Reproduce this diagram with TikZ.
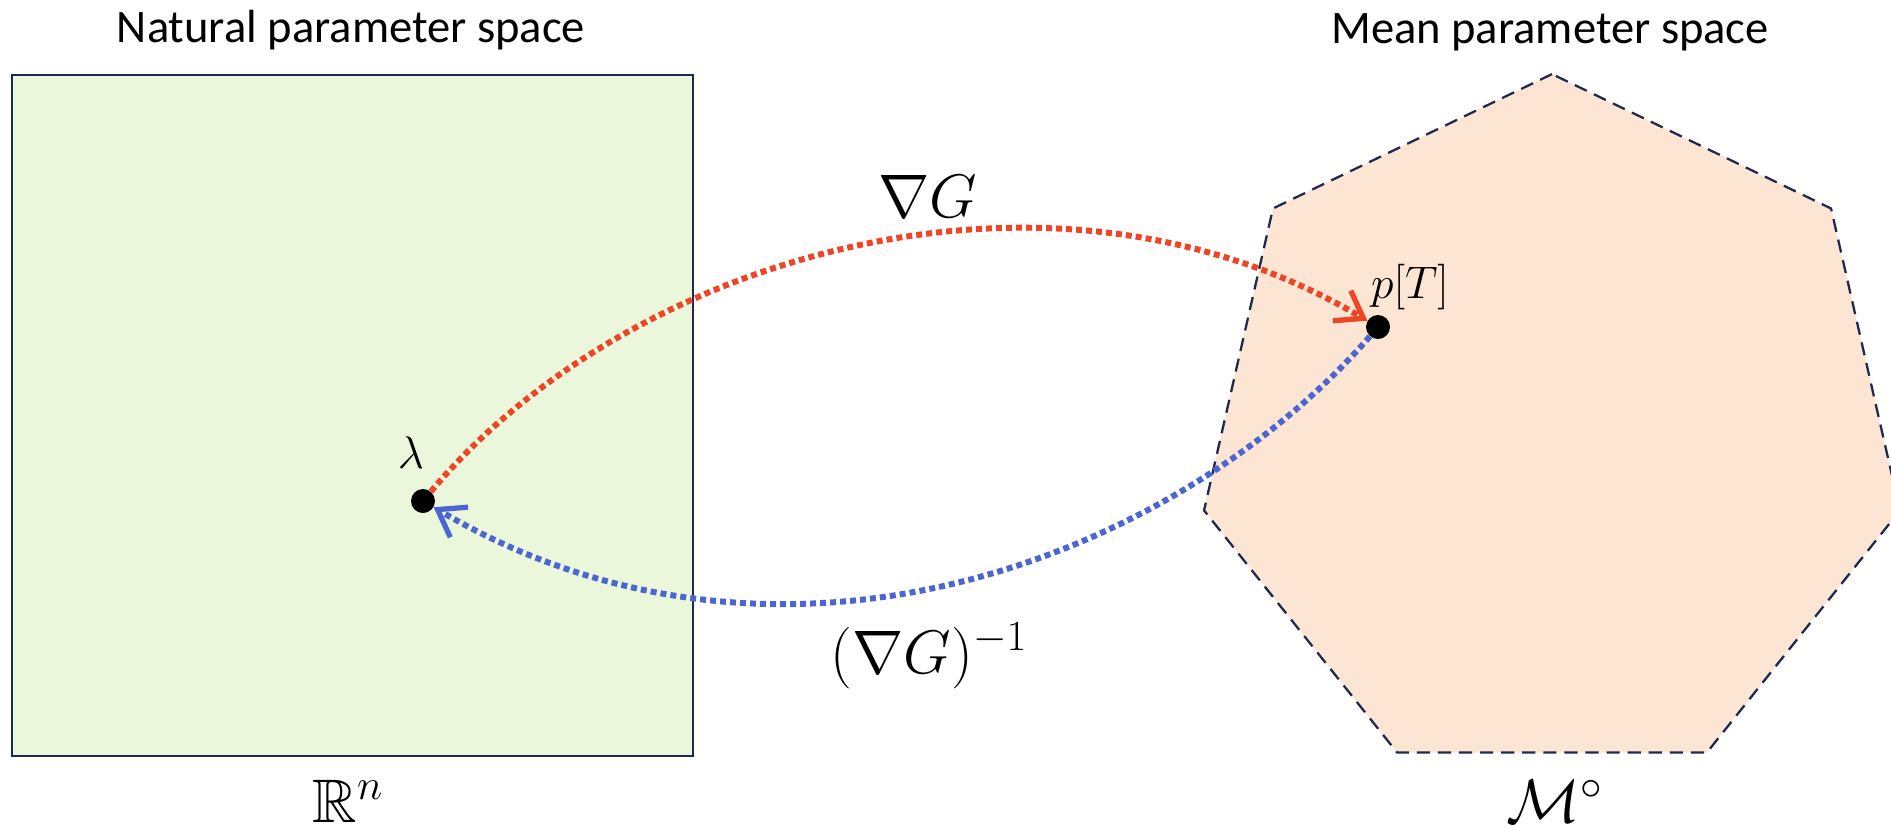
\RequirePackage{fix-cm}
\documentclass[tikz,border=0pt]{standalone}
\usepackage{amssymb}
\usepackage[no-math]{fontspec}
\setmainfont{Carlito}
\usetikzlibrary{shapes.geometric,arrows.meta,positioning}

\definecolor{natfill}{RGB}{235,247,219}
\definecolor{meanfill}{RGB}{253,229,211}
\definecolor{edgenavy}{RGB}{31,40,80}
\definecolor{gradred}{RGB}{239,68,38}
\definecolor{invblue}{RGB}{76,102,209}

\tikzset{
  spacebox/.style={draw=edgenavy, fill=natfill, line width=1.3pt, minimum size=13.62cm, inner sep=0pt},
  polybox/.style={draw=edgenavy, fill=meanfill, line width=1.3pt, dash pattern=on 7.5pt off 4.5pt,
    regular polygon, regular polygon sides=7, minimum size=14.28cm, inner sep=0pt},
  pointdot/.style={circle, fill=black, minimum size=0.48cm, inner sep=0pt},
  maparrow/.style={line width=3.4pt, dash pattern=on 3.4pt off 2.3pt,
    -{Straight Barb[length=0.5cm, width=0.7cm, line width=3pt]}},
  spacetitle/.style={font=\fontsize{26.5}{30}\selectfont, anchor=base, inner sep=0pt},
  biglabel/.style={font=\fontsize{35}{40}\selectfont, anchor=base, inner sep=0pt},
  smalllabel/.style={font=\fontsize{26}{30}\selectfont, anchor=base, inner sep=0pt},
}

\begin{document}
\begin{tikzpicture}[x=0.02cm, y=-0.02cm]
    \useasboundingbox (0,0) rectangle (1891,826);
    % the two spaces
    \node[spacebox] (natural) at (352.5,415.5) {};
    \node[polybox] (mean) at (1552,431) {};
    \node[spacetitle] (natname) at (351,42) {Natural parameter space};
    \node[spacetitle] (meanname) at (1550,43) {Mean parameter space};
    \node[biglabel] (rn) at (348,822) {$\mathbb{R}^n$};
    \node[biglabel] (mcirc) at (1555,822) {$\mathcal{M}^\circ$};

    % points and maps
    \node[pointdot] (lambda) at (423,501) {};
    \node[pointdot] (pt) at (1378,327) {};
    \node[smalllabel] (lamname) at (411,468) {$\lambda$};
    \node[smalllabel] (ptname) at (1410,298) {$p[T]$};
    \draw[maparrow, gradred] (lambda) .. controls +(205,-245) and +(-330,-195) .. (pt);
    \draw[maparrow, invblue] (pt) .. controls +(-198,228) and +(361,212) .. (lambda);
    \node[biglabel] (gradname) at (928,217) {$\nabla G$};
    \node[biglabel] (invname) at (929,673) {$(\nabla G)^{-1}$};
\end{tikzpicture}
\end{document}
